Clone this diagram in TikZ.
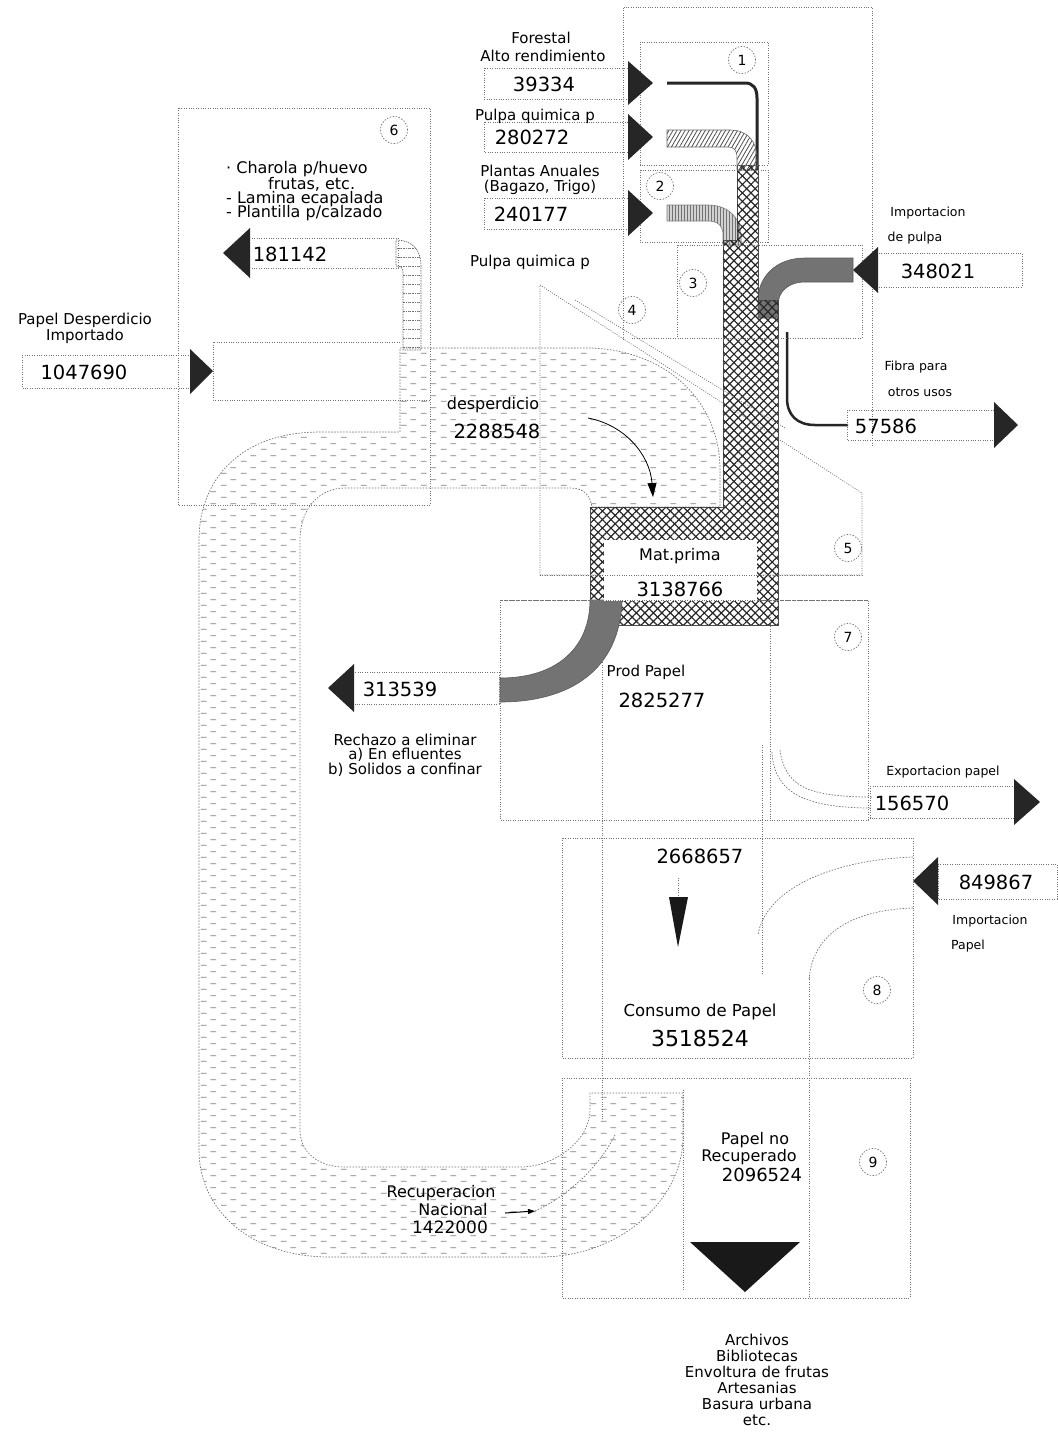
\documentclass[tikz,border=0pt]{standalone}
\usepackage{fontspec}
\setmainfont{DejaVu Sans}
\usetikzlibrary{patterns,patterns.meta,arrows.meta}
\tikzdeclarepattern{
  name=wdash, type=uncolored,
  bounding box={(0pt,0pt) and (20pt,12pt)},
  tile size={(20pt,12pt)},
  code={
    \draw[line width=0.8pt] (1pt,3pt) -- (7pt,3pt) (11pt,9pt) -- (17pt,9pt);
  }
}
\begin{document}
\begin{tikzpicture}[x=1pt,y=-1pt,
  frame/.style={draw=black!55, line width=0.7pt, dash pattern=on 1pt off 1.4pt},
  wedge/.style={draw=black!55, line width=0.7pt, dash pattern=on 1.5pt off 1.5pt},
  lbl/.style={inner sep=0pt, font=\fontsize{15}{15}\selectfont},
  num/.style={inner sep=0pt, font=\fontsize{19.5}{19.5}\selectfont},
  sml/.style={inner sep=0pt, font=\fontsize{12.5}{12.5}\selectfont},
  tag/.style={circle, draw=black!55, dash pattern=on 1.5pt off 1.5pt, line width=0.7pt, minimum size=27pt, inner sep=0pt, font=\fontsize{14}{14}\selectfont},
  head/.style={fill=black!85},
  xh/.style={pattern={Lines[angle=45,distance=6pt,line width=1.2pt]}, pattern color=black!85},
  xhb/.style={pattern={Lines[angle=-45,distance=6pt,line width=1.2pt]}, pattern color=black!85},
  waste/.style={pattern=wdash, pattern color=black!50},
]
\fill[white] (0,0) rectangle (1058,1436);
\useasboundingbox (0,0) rectangle (1058,1436);

% ---------- waste paper loop ----------
\path[waste, wedge] (400,348) -- (590,348) .. controls (665,350) and (720,400) .. (720,470) -- (720,507) -- (592,507) .. controls (590,495) and (584,488) .. (570,488) -- (345,488) .. controls (318,488) and (300,510) .. (300,540) -- (300,1130) .. controls (300,1152) and (318,1167) .. (345,1167) -- (520,1167) .. controls (555,1167) and (590,1140) .. (590,1110) -- (590,1093) -- (683,1093) -- (683,1137) .. controls (683,1200) and (620,1257) .. (540,1257) -- (330,1257) .. controls (250,1257) and (199,1210) .. (199,1150) -- (199,540) .. controls (199,480) and (240,432) .. (320,432) -- (400,432) -- cycle;

% ---------- virgin fibre streams ----------
\draw[line width=3pt, black!85] (667,83) -- (745,83) .. controls (753,83) and (757,88) .. (757,98) -- (757,170);
\path[pattern={Lines[angle=60,distance=3.5pt,line width=0.8pt]}, pattern color=black!70, draw=black!60, line width=0.6pt]
  (667,130) -- (730,130) .. controls (748,130) and (757,142) .. (757,158) -- (757,170) -- (737,170) -- (737,158) .. controls (737,150) and (734,147) .. (728,147) -- (667,147) -- cycle;
\path[fill=black!18, draw=black!50, line width=0.6pt, postaction={pattern={Lines[angle=90,distance=3pt,line width=0.6pt]}, pattern color=black!55}]
  (667,205) -- (708,205) .. controls (730,205) and (741,220) .. (741,235) -- (741,245) -- (723,245) -- (723,235) .. controls (723,226) and (718,221) .. (708,221) -- (667,221) -- cycle;
\path[fill=black!55, draw=black!65, line width=0.6pt]
  (853,258) -- (805,258) .. controls (775,258) and (758,278) .. (758,300) -- (758,318) -- (778,318) -- (778,305) .. controls (778,292) and (788,282) .. (805,282) -- (853,282) -- cycle;
% trunk (crosshatch)
\path[xh, postaction={xhb}, draw=black!70, line width=0.6pt]
  (737,165) -- (758,165) -- (758,300) -- (778,300) -- (778,625) -- (590,625) -- (590,507) -- (723,507) -- (723,240) -- (737,240) -- cycle;
% reject flow
\path[fill=black!55, draw=black!65, line width=0.6pt]
  (500,678) .. controls (560,678) and (590,645) .. (590,600) -- (622,600) .. controls (620,670) and (570,702) .. (500,702) -- cycle;
% 181142 stream
\path[draw=black!60, line width=0.7pt, dash pattern=on 1.5pt off 1pt, pattern={Lines[angle=0,distance=9pt,line width=0.8pt]}, pattern color=black!55]
  (396,240) .. controls (412,240) and (421,250) .. (421,265) -- (421,350) -- (403,350) -- (403,272) .. controls (403,268) and (401,266) .. (396,266) -- cycle;
% fibre for other uses
\draw[line width=2.5pt, black!85] (787,332) -- (787,398) .. controls (787,415) and (797,425) .. (815,425) -- (848,425);
% export paper / import paper edges
\draw[wedge] (772,752) .. controls (774,790) and (800,808) .. (872,808);
\draw[wedge] (780,750) .. controls (785,785) and (805,797) .. (872,797);
\draw[wedge] (913,857) .. controls (830,860) and (765,890) .. (758,935);
\draw[wedge] (913,908) .. controls (850,910) and (812,935) .. (809,980);

% ---------- frames ----------
\draw[frame] (623,340) -- (623,7) -- (872,7) -- (872,447);
\draw[frame] (640,42) rectangle (768,165);
\draw[frame] (640,170) rectangle (768,242);
\draw[frame] (677,245) rectangle (862,338);
\draw[frame] (632,338) -- (677,338);
\draw[frame] (540,285) -- (862,493) -- (862,575) -- (540,575) -- cycle;
\draw[frame] (575,300) -- (785,428);
\draw[frame] (178,108) rectangle (430,505);
\draw[frame] (400,342) -- (213,342) -- (213,400) -- (430,400);
\draw[frame] (500,600) rectangle (868,820);
\draw[frame] (602,600) -- (602,1120);
\draw[frame] (770,600) -- (770,820);
\draw[frame] (762,745) -- (762,975);
\draw[frame] (562,838) rectangle (913,1058);
\draw[frame] (562,1078) rectangle (910,1298);
\draw[frame] (683,1090) -- (683,1290);
\draw[frame] (809,977) -- (809,1298);

% white label area on raw material
\fill[white] (604,540) rectangle (757,601);
\draw[frame] (540,575) -- (862,575);
\draw[frame] (500,600) -- (868,600);

% ---------- number boxes and arrow heads ----------
\draw[frame] (484,68) rectangle (628,99);
\draw[frame] (484,122) rectangle (628,152);
\draw[frame] (484,198) rectangle (628,229);
\fill[head] (628,61) -- (653,83) -- (628,105) -- cycle;
\fill[head] (628,114) -- (653,137) -- (628,160) -- cycle;
\fill[head] (628,190) -- (653,213) -- (628,236) -- cycle;

\draw[frame] (877,253) rectangle (1022,287);
\fill[head] (878,247) -- (853,270) -- (878,293) -- cycle;
\draw[frame] (847,410) rectangle (995,440);
\fill[head] (994,402) -- (1018,425) -- (994,448) -- cycle;
\draw[frame] (870,786) rectangle (1015,818);
\fill[head] (1014,779) -- (1040,802) -- (1014,825) -- cycle;
\draw[frame] (938,864) rectangle (1057,899);
\fill[head] (938,857) -- (913,881) -- (938,905) -- cycle;

\draw[frame] (248,238) rectangle (398,268);
\fill[head] (250,228) -- (223,253) -- (250,278) -- cycle;
\draw[frame] (22,355) rectangle (190,388);
\fill[head] (190,349) -- (213,371) -- (190,394) -- cycle;
\draw[frame] (353,672) rectangle (499,704);
\fill[head] (354,664) -- (328,688) -- (354,712) -- cycle;

% other arrows
\fill[black!90] (669,897) -- (688,897) -- (678,947) -- cycle;
\draw[frame] (678,878) -- (678,897);
\fill[black!90] (690,1242) -- (800,1242) -- (745,1292) -- cycle;
\draw[line width=0.8pt, -{Triangle[length=14pt,width=9pt]}] (588,418) .. controls (625,425) and (650,455) .. (653,497);
\draw[line width=1pt, -{Triangle[length=7pt,width=5pt]}] (505,1213) -- (535,1211);
\draw[wedge] (535,1211) .. controls (570,1195) and (600,1165) .. (615,1135);

% ---------- circled numbers ----------
\node[tag] (c1) at (742,60) {1};
\node[tag] (c2) at (660,186) {2};
\node[tag] (c3) at (693,283) {3};
\node[tag] (c4) at (632,310) {4};
\node[tag] (c5) at (848,548) {5};
\node[tag] (c6) at (394,130) {6};
\node[tag] (c7) at (848,637) {7};
\node[tag] (c8) at (877,990) {8};
\node[tag] (c9) at (873,1162) {9};

% ---------- texts ----------
\node[lbl] (t1) at (541,38) {Forestal};
\node[lbl] (t2) at (543,56) {Alto rendimiento};
\node[num] (n1) at (544,84) {39334};
\node[lbl] (t3) at (535,116) {Pulpa quimica p};
\node[num] (n2) at (532,137) {280272};
\node[lbl] (t4) at (540,171) {Plantas Anuales};
\node[lbl] (t5) at (540,187) {(Bagazo, Trigo)};
\node[num] (n3) at (531,214) {240177};
\node[lbl] (t6) at (530,262) {Pulpa quimica p};

\node[sml] (t7) at (928,213) {Importacion};
\node[sml] (t8) at (915,238) {de pulpa};
\node[num] (n4) at (938,271) {348021};
\node[sml] (t9) at (916,367) {Fibra para};
\node[sml] (t10) at (920,392) {otros usos};
\node[num] (n5) at (886,426) {57586};
\node[sml] (t11) at (943,772) {Exportacion papel};
\node[num] (n6) at (912,803) {156570};
\node[num] (n7) at (996,882) {849867};
\node[sml] (t12) at (990,921) {Importacion};
\node[sml] (t13) at (968,946) {Papel};

\node[lbl, anchor=west, font=\fontsize{16}{16}\selectfont] (t14) at (226,169) {· Charola p/huevo};
\node[lbl, anchor=west, font=\fontsize{16}{16}\selectfont] (t15) at (268,184) {frutas, etc.};
\node[lbl, anchor=west, font=\fontsize{16}{16}\selectfont] (t16) at (226,199) {- Lamina ecapalada};
\node[lbl, anchor=west, font=\fontsize{16}{16}\selectfont] (t17) at (226,213) {- Plantilla p/calzado};
\node[num] (n8) at (290,254) {181142};

\node[lbl] (t18) at (85,320) {Papel Desperdicio};
\node[lbl] (t19) at (85,336) {Importado};
\node[num] (n9) at (84,372) {1047690};

\node[lbl, font=\fontsize{16}{16}\selectfont] (t20) at (493,405) {desperdicio};
\node[num] (n10) at (497,431) {2288548};
\node[lbl, font=\fontsize{16}{16}\selectfont] (t21) at (680,556) {Mat.prima};
\node[num] (n11) at (680,589) {3138766};
\node[lbl] (t22) at (646,672) {Prod Papel};
\node[num] (n12) at (662,700) {2825277};
\node[num] (n13) at (400,689) {313539};
\node[lbl, align=center, font=\fontsize{15}{14.5}\selectfont] (t23) at (405,755) {Rechazo a eliminar\\a) En efluentes\\b) Solidos a confinar};

\node[num] (n14) at (700,856) {2668657};
\node[lbl, font=\fontsize{16.5}{16.5}\selectfont] (t24) at (700,1012) {Consumo de Papel};
\node[num, font=\fontsize{22}{22}\selectfont] (n15) at (700,1038) {3518524};

\node[lbl, font=\fontsize{16}{16}\selectfont] (t25) at (755,1140) {Papel no};
\node[lbl, font=\fontsize{16}{16}\selectfont] (t26) at (749,1157) {Recuperado};
\node[num, font=\fontsize{18}{18}\selectfont] (n16) at (762,1175) {2096524};

\node[lbl, font=\fontsize{16}{16}\selectfont] (t27) at (441,1193) {Recuperacion};
\node[lbl, font=\fontsize{16}{16}\selectfont] (t28) at (453,1210) {Nacional};
\node[num, font=\fontsize{17}{17}\selectfont] (n17) at (450,1227) {1422000};

\node[lbl, align=center, font=\fontsize{15}{16}\selectfont] (t29) at (757,1380) {Archivos\\Bibliotecas\\Envoltura de frutas\\Artesanias\\Basura urbana\\etc.};
\end{tikzpicture}
\end{document}
